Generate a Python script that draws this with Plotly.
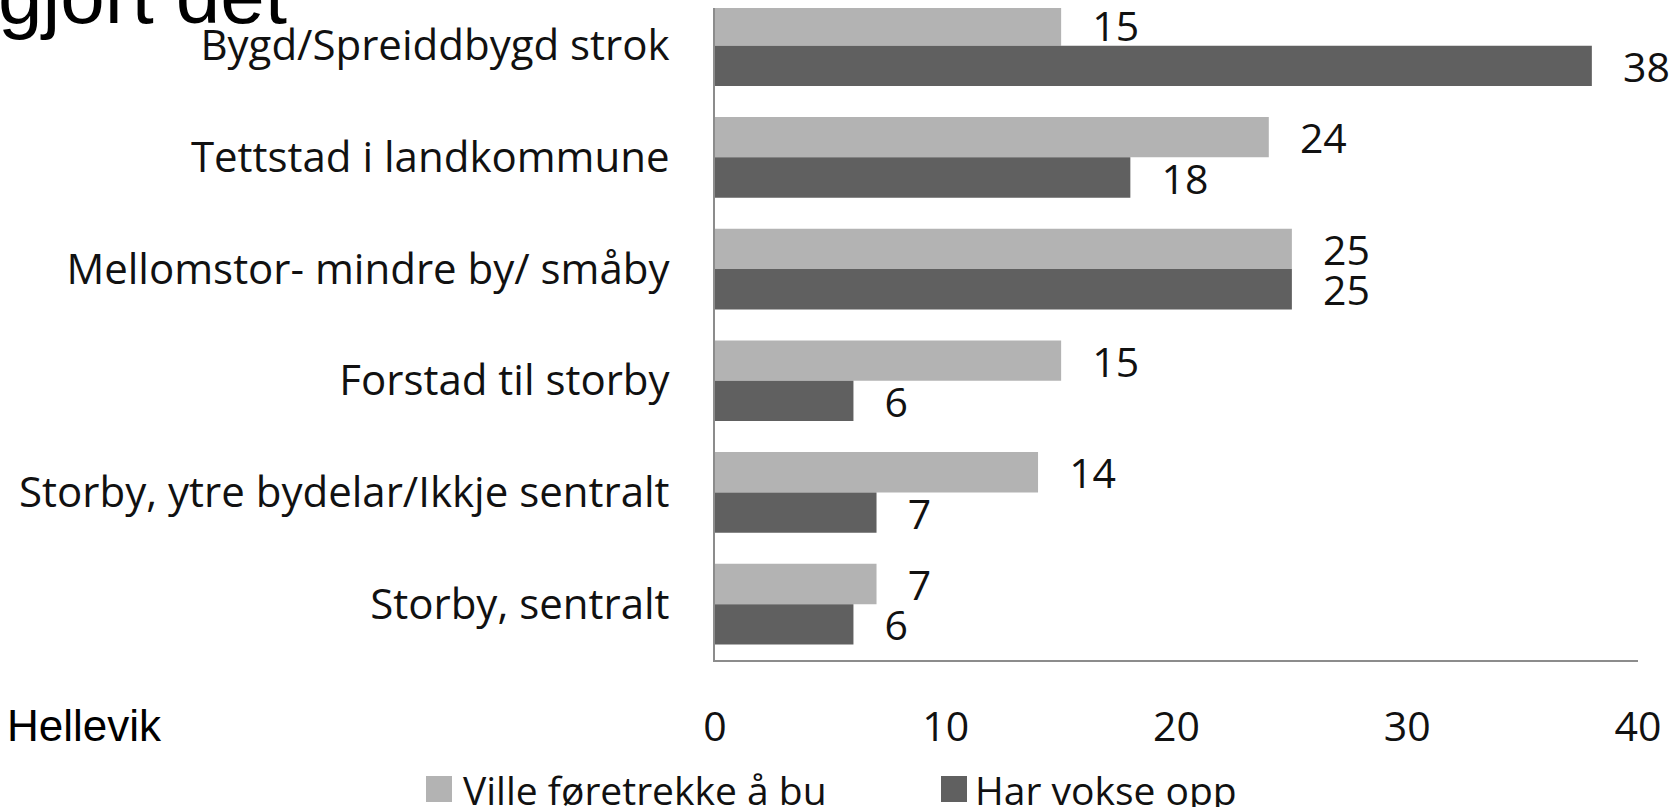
import plotly.graph_objects as go

categories = [
    "Bygd/Spreiddbygd strok",
    "Tettstad i landkommune",
    "Mellomstor- mindre by/ småby",
    "Forstad til storby",
    "Storby, ytre bydelar/Ikkje sentralt",
    "Storby, sentralt",
]
series_names = ["Ville føretrekke å bu", "Har vokse opp"]
ville = [15, 24, 25, 15, 14, 7]
har = [38, 18, 25, 6, 7, 6]
x_ticks = [0, 10, 20, 30, 40]
title_fragment = "gjort det"
source_text = "Hellevik"

colors = ["#B3B3B3", "#606060"]
FONT = "Open Sans"

# plot area in pixels
L, R, T, B = 715, 1638, 8, 660
W, H = R - L, B - T


def px_x(x):
    return (x - L) / W


def px_y(y):
    return (B - y) / H


fig = go.Figure()
for name, vals, col in zip(series_names, [ville, har], colors):
    fig.add_trace(go.Bar(
        y=categories, x=vals, orientation="h", name=name,
        marker=dict(color=col, line=dict(width=0)),
        text=vals, texttemplate="\u00a0\u00a0\u2009%{x}",
        textposition="outside", constraintext="none", cliponaxis=False,
        textfont=dict(family=FONT, size=41, color="#111111"),
        showlegend=False,
    ))

annotations = [
    dict(text=title_fragment, xref="paper", yref="paper", x=px_x(-4), y=px_y(-5),
         xanchor="left", yanchor="middle", showarrow=False,
         font=dict(family="Liberation Sans", size=80, color="#000000")),
    dict(text=source_text, xref="paper", yref="paper", x=px_x(5), y=px_y(725.5),
         xanchor="left", yanchor="middle", showarrow=False,
         font=dict(family="Liberation Sans", size=44, color="#000000")),
]
shapes = []
legend_sq_x = [426, 941]
legend_txt_x = [461, 973]
for name, col, sx, tx in zip(series_names, colors, legend_sq_x, legend_txt_x):
    shapes.append(dict(type="rect", xref="paper", yref="paper",
                       x0=px_x(sx), x1=px_x(sx + 26), y0=px_y(776), y1=px_y(802),
                       fillcolor=col, line=dict(width=0)))
    annotations.append(dict(text=name, xref="paper", yref="paper", x=px_x(tx), y=px_y(789),
                            xanchor="left", yanchor="middle", showarrow=False,
                            font=dict(family=FONT, size=39, color="#111111")))

fig.update_layout(
    width=1679, height=807,
    margin=dict(l=L, r=1679 - R, t=T, b=807 - B, pad=0),
    paper_bgcolor="white", plot_bgcolor="white",
    barmode="group", bargap=0.2775, bargroupgap=0,
    showlegend=False,
    annotations=annotations, shapes=shapes,
    xaxis=dict(range=[0, 40], tickvals=x_ticks, showgrid=False, zeroline=False,
               showline=True, linecolor="#8C8C8C", linewidth=2,
               ticks="", ticklabelstandoff=30,
               tickfont=dict(family=FONT, size=41, color="#111111")),
    yaxis=dict(categoryorder="array", categoryarray=categories,
               range=[5.5, -0.337], showgrid=False, zeroline=False,
               showline=True, linecolor="#8C8C8C", linewidth=2,
               ticks="", ticklabelstandoff=35,
               tickfont=dict(family=FONT, size=42, color="#111111")),
)

fig.write_html("out.html", config={"displayModeBar": False},
               post_script="document.body.style.margin='0px';")
